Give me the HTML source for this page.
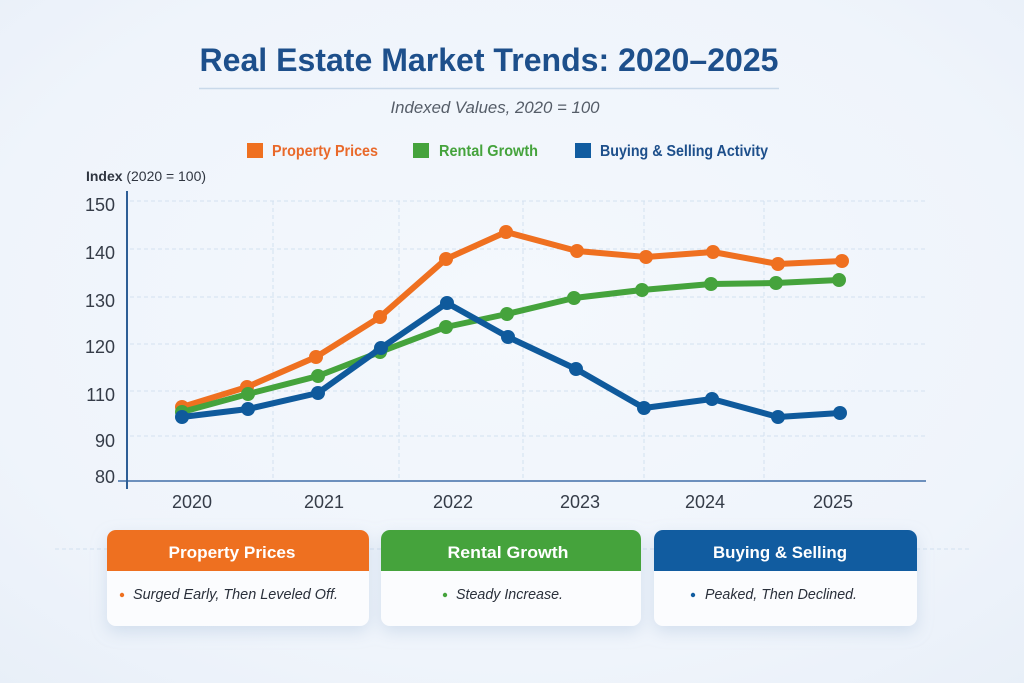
<!DOCTYPE html>
<html>
<head>
<meta charset="utf-8">
<style>
html,body{margin:0;padding:0;}
body{width:1024px;height:683px;overflow:hidden;font-family:"Liberation Sans",sans-serif;}
svg{display:block;}
</style>
</head>
<body>
<svg width="1024" height="683" viewBox="0 0 1024 683" xmlns="http://www.w3.org/2000/svg">
<defs>
<radialGradient id="bg" cx="50%" cy="45%" r="75%">
<stop offset="0" stop-color="#f4f8fd"/>
<stop offset="0.7" stop-color="#eff4fb"/>
<stop offset="1" stop-color="#e8eff8"/>
</radialGradient>
<filter id="sh" x="-20%" y="-30%" width="140%" height="170%">
<feDropShadow dx="0" dy="6" stdDeviation="8" flood-color="#9db6d4" flood-opacity="0.35"/>
</filter>
<clipPath id="c1"><rect x="107" y="530" width="262" height="96" rx="9"/></clipPath>
<clipPath id="c2"><rect x="381" y="530" width="260" height="96" rx="9"/></clipPath>
<clipPath id="c3"><rect x="654" y="530" width="263" height="96" rx="9"/></clipPath>
</defs>
<rect width="1024" height="683" fill="url(#bg)"/>

<!-- Title -->
<text x="489" y="71" text-anchor="middle" font-size="32" font-weight="bold" fill="#1d4f8b" textLength="579" lengthAdjust="spacingAndGlyphs">Real Estate Market Trends: 2020–2025</text>
<line x1="199" y1="88.5" x2="779" y2="88.5" stroke="#c9d9ea" stroke-width="1.5"/>
<text x="495" y="113" text-anchor="middle" font-size="17" font-style="italic" fill="#555d68" textLength="209" lengthAdjust="spacingAndGlyphs">Indexed Values, 2020 = 100</text>

<!-- Legend -->
<rect x="247" y="143" width="16" height="15" fill="#ef7020"/>
<text x="272" y="156" font-size="16" font-weight="bold" fill="#e9692a" textLength="106" lengthAdjust="spacingAndGlyphs">Property Prices</text>
<rect x="413" y="143" width="16" height="15" fill="#45a33c"/>
<text x="439" y="156" font-size="16" font-weight="bold" fill="#45a33c" textLength="99" lengthAdjust="spacingAndGlyphs">Rental Growth</text>
<rect x="575" y="143" width="16" height="15" fill="#115ca0"/>
<text x="600" y="156" font-size="16" font-weight="bold" fill="#1d4f8b" textLength="168" lengthAdjust="spacingAndGlyphs">Buying &amp; Selling Activity</text>

<!-- Axis title -->
<text x="86" y="181" font-size="14" fill="#2f3540" textLength="120" lengthAdjust="spacingAndGlyphs"><tspan font-weight="bold">Index</tspan> (2020 = 100)</text>

<!-- Grid -->
<g stroke="#d3e1f0" stroke-width="1" stroke-dasharray="4,3" fill="none">
<line x1="130" y1="201" x2="926" y2="201"/>
<line x1="130" y1="249" x2="926" y2="249"/>
<line x1="130" y1="297" x2="926" y2="297"/>
<line x1="130" y1="344" x2="926" y2="344"/>
<line x1="130" y1="391" x2="926" y2="391"/>
<line x1="130" y1="436" x2="926" y2="436"/>
<line x1="273" y1="201" x2="273" y2="481"/>
<line x1="399" y1="201" x2="399" y2="481"/>
<line x1="523" y1="201" x2="523" y2="481"/>
<line x1="644" y1="201" x2="644" y2="481"/>
<line x1="764" y1="201" x2="764" y2="481"/>
</g>

<!-- Axes -->
<line x1="118" y1="481" x2="926" y2="481" stroke="#6d90bd" stroke-width="2"/>
<line x1="127" y1="191" x2="127" y2="489" stroke="#2e5e96" stroke-width="2"/>

<!-- Y tick labels -->
<g font-size="18" fill="#353c48" text-anchor="end">
<text x="115" y="211">150</text>
<text x="115" y="259">140</text>
<text x="115" y="307">130</text>
<text x="115" y="353">120</text>
<text x="115" y="401">110</text>
<text x="115" y="447">90</text>
<text x="115" y="483">80</text>
</g>

<!-- X labels -->
<g font-size="18" fill="#353c48" text-anchor="middle">
<text x="192" y="508">2020</text>
<text x="324" y="508">2021</text>
<text x="453" y="508">2022</text>
<text x="580" y="508">2023</text>
<text x="705" y="508">2024</text>
<text x="833" y="508">2025</text>
</g>

<!-- Series -->
<g fill="none" stroke-width="6" stroke-linejoin="round" stroke-linecap="round">
<polyline stroke="#ef7020" points="182,407 247,387 316,357 380,317 446,259 506,232 577,251 646,257 713,252 778,264 842,261"/>
</g>
<g fill="#ef7020">
<circle cx="182" cy="407" r="7"/><circle cx="247" cy="387" r="7"/><circle cx="316" cy="357" r="7"/><circle cx="380" cy="317" r="7"/><circle cx="446" cy="259" r="7"/><circle cx="506" cy="232" r="7"/><circle cx="577" cy="251" r="7"/><circle cx="646" cy="257" r="7"/><circle cx="713" cy="252" r="7"/><circle cx="778" cy="264" r="7"/><circle cx="842" cy="261" r="7"/>
</g>
<g fill="none" stroke-width="6" stroke-linejoin="round" stroke-linecap="round">
<polyline stroke="#45a33c" points="182,412 248,394 318,376 380,352 446,327 507,314 574,298 642,290 711,284 776,283 839,280"/>
</g>
<g fill="#45a33c">
<circle cx="182" cy="412" r="7"/><circle cx="248" cy="394" r="7"/><circle cx="318" cy="376" r="7"/><circle cx="380" cy="352" r="7"/><circle cx="446" cy="327" r="7"/><circle cx="507" cy="314" r="7"/><circle cx="574" cy="298" r="7"/><circle cx="642" cy="290" r="7"/><circle cx="711" cy="284" r="7"/><circle cx="776" cy="283" r="7"/><circle cx="839" cy="280" r="7"/>
</g>
<g fill="none" stroke-width="6" stroke-linejoin="round" stroke-linecap="round">
<polyline stroke="#0f5a9c" points="182,417 248,409 318,393 381,348 447,303 508,337 576,369 644,408 712,399 778,417 840,413"/>
</g>
<g fill="#0f5a9c">
<circle cx="182" cy="417" r="7"/><circle cx="248" cy="409" r="7"/><circle cx="318" cy="393" r="7"/><circle cx="381" cy="348" r="7"/><circle cx="447" cy="303" r="7"/><circle cx="508" cy="337" r="7"/><circle cx="576" cy="369" r="7"/><circle cx="644" cy="408" r="7"/><circle cx="712" cy="399" r="7"/><circle cx="778" cy="417" r="7"/><circle cx="840" cy="413" r="7"/>
</g>

<!-- background dashed line behind cards -->
<line x1="55" y1="549" x2="969" y2="549" stroke="#d8e4f1" stroke-width="1.2" stroke-dasharray="4,3"/>

<!-- Cards -->
<g filter="url(#sh)">
<rect x="107" y="530" width="262" height="96" rx="9" fill="#fbfcfe"/>
<rect x="381" y="530" width="260" height="96" rx="9" fill="#fbfcfe"/>
<rect x="654" y="530" width="263" height="96" rx="9" fill="#fbfcfe"/>
</g>
<rect x="107" y="530" width="262" height="41" fill="#ee7020" clip-path="url(#c1)"/>
<rect x="381" y="530" width="260" height="41" fill="#45a33c" clip-path="url(#c2)"/>
<rect x="654" y="530" width="263" height="41" fill="#115ca0" clip-path="url(#c3)"/>

<g font-size="17" font-weight="bold" fill="#ffffff" text-anchor="middle">
<text x="232" y="558" textLength="127" lengthAdjust="spacingAndGlyphs">Property Prices</text>
<text x="508" y="558" textLength="121" lengthAdjust="spacingAndGlyphs">Rental Growth</text>
<text x="780" y="558" textLength="134" lengthAdjust="spacingAndGlyphs">Buying &amp; Selling</text>
</g>

<circle cx="122" cy="595" r="2.2" fill="#ee7020"/>
<text x="133" y="599" font-size="15" font-style="italic" fill="#2a303b" textLength="205" lengthAdjust="spacingAndGlyphs">Surged Early, Then Leveled Off.</text>
<circle cx="445" cy="595" r="2.2" fill="#45a33c"/>
<text x="456" y="599" font-size="15" font-style="italic" fill="#2a303b" textLength="107" lengthAdjust="spacingAndGlyphs">Steady Increase.</text>
<circle cx="693" cy="595" r="2.2" fill="#115ca0"/>
<text x="705" y="599" font-size="15" font-style="italic" fill="#2a303b" textLength="152" lengthAdjust="spacingAndGlyphs">Peaked, Then Declined.</text>
</svg>
</body>
</html>
